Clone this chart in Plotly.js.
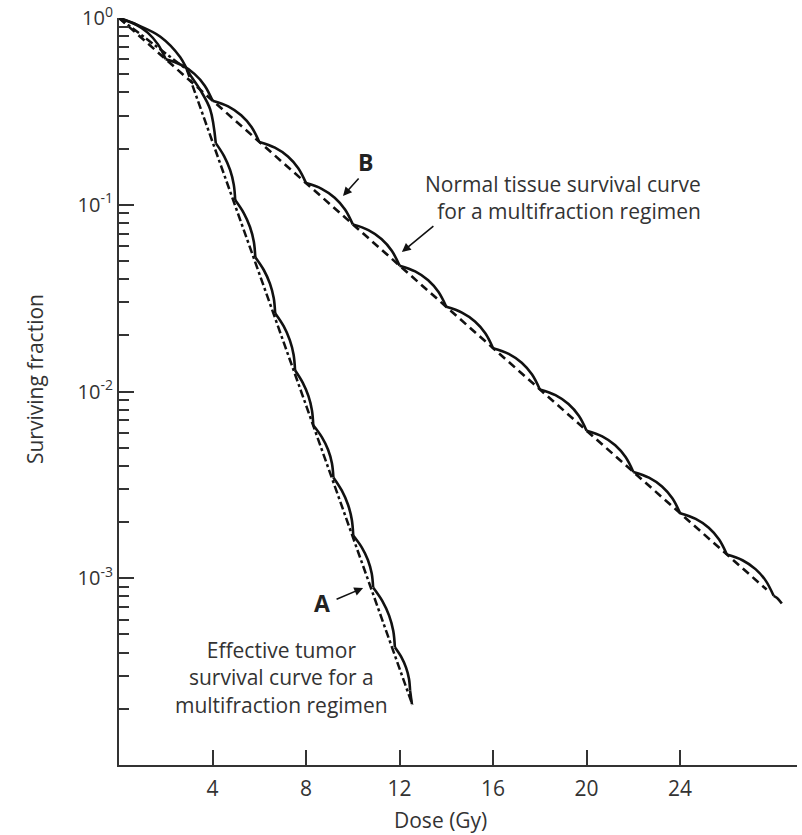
<!DOCTYPE html>
<html>
<head>
<meta charset="utf-8">
<script src="https://cdn.plot.ly/plotly-3.0.1.min.js"></script>
<style>html,body{margin:0;padding:0;background:#fff}#chart{width:802px;height:835px}</style>
</head>
<body>
<div id="chart"></div>
<script>
// ---------- data ----------
// Curve B (normal tissue): fraction break points and three points inside each fraction arc
const bKinkDose = [0, 2, 4, 6, 8, 10, 12, 14, 16, 18, 20, 22, 24, 26, 28];
const bKinkSurv = [1, 0.601, 0.361, 0.217, 0.1306, 0.0785, 0.0472, 0.0284, 0.01706, 0.01026, 0.00617, 0.00371, 0.00223, 0.00134, 0.000805];
const bP1Dose = [0.668, 2.668, 4.668, 6.668, 8.668, 10.668, 12.668, 14.668, 16.668, 18.668, 20.668, 22.668, 24.668, 26.668];
const bP1Surv = [0.9318, 0.560, 0.3364, 0.2022, 0.1217, 0.07315, 0.04398, 0.02646, 0.0159, 0.00956, 0.00575, 0.003457, 0.002078, 0.001249];
const bP2Dose = [1.226, 3.226, 5.226, 7.226, 9.226, 11.226, 13.226, 15.226, 17.226, 19.226, 21.226, 23.226, 25.226, 27.226];
const bP2Surv = [0.8353, 0.502, 0.3015, 0.1813, 0.1091, 0.06557, 0.03943, 0.02372, 0.01425, 0.00857, 0.005154, 0.003099, 0.001863, 0.001119];
const bP3Dose = [1.668, 3.668, 5.668, 7.668, 9.668, 11.668, 13.668, 15.668, 17.668, 19.668, 21.668, 23.668, 25.668, 27.668];
const bP3Surv = [0.7224, 0.4342, 0.2608, 0.1568, 0.09435, 0.05671, 0.0341, 0.02052, 0.01232, 0.007412, 0.004457, 0.00268, 0.001611, 0.000968];
const bTailDose = [28, 28.15, 28.35];
const bTailSurv = [0.000805, 0.000785, 0.000733];
// Effective (dashed) line for B
const bLineDose = [0, 27.7];
const bLineSurv = [1, 0.00087];

// Curve A (tumor)
const aFirstDose = [0, 0.79, 1.77, 2.62, 2.97, 3.48, 3.9, 4.14];
const aFirstSurv = [1, 0.917, 0.794, 0.617, 0.513, 0.411, 0.324, 0.2138];
const aKinkDose = [4.14, 4.97, 5.83, 6.68, 7.53, 8.31, 9.17, 10.02, 10.87, 11.8, 12.45];
const aKinkSurv = [0.2138, 0.1059, 0.05236, 0.02624, 0.0130, 0.00659, 0.003467, 0.001694, 0.000893, 0.000427, 0.000251];
const aP1Dose = [4.494, 5.337, 6.193, 7.043, 7.863, 8.677, 9.533, 10.383, 11.267, 12.078];
const aP1Surv = [0.1822, 0.09019, 0.04473, 0.02236, 0.01113, 0.005692, 0.002944, 0.001464, 0.000755, 0.000378];
const aP2Dose = [4.751, 5.603, 6.456, 7.306, 8.104, 8.943, 9.796, 10.646, 11.554, 12.278];
const aP2Surv = [0.1536, 0.07601, 0.03782, 0.01885, 0.009443, 0.004871, 0.002475, 0.001253, 0.000631, 0.000332];
const aP3Dose = [4.909, 5.767, 6.618, 7.468, 8.253, 9.107, 9.958, 10.808, 11.732, 12.403];
const aP3Surv = [0.1282, 0.06341, 0.03166, 0.01574, 0.007926, 0.004128, 0.002059, 0.001063, 0.000522, 0.00029];
const aTailDose = [12.45, 12.53];
const aTailSurv = [0.000251, 0.000212];
// Effective (dot-dash) line for A
const aLineDose = [0, 2.9, 12.55];
const aLineSurv = [1, 0.53, 0.00021];

// Axis ticks
const xTickVals = [4, 8, 12, 16, 20, 24];
const yTickVals = [1, 0.1, 0.01, 0.001];
const yTickText = ['10<sup>0</sup>', '10<sup>-1</sup>', '10<sup>-2</sup>', '10<sup>-3</sup>'];
const minorDigits = [2, 3, 4, 5, 6, 7, 8, 9];
const minorDecades = [1e-4, 1e-3, 1e-2, 1e-1];

// ---------- build arc traces (null separates fractions) ----------
function buildArcs(kd, ks, pts, pre, tail) {
  const x = [], y = [];
  if (pre) { x.push(...pre[0], null); y.push(...pre[1], null); }
  for (let i = 0; i < kd.length - 1; i++) {
    x.push(kd[i]); y.push(ks[i]);
    pts.forEach(p => { x.push(p[0][i]); y.push(p[1][i]); });
    x.push(kd[i + 1], null); y.push(ks[i + 1], null);
  }
  x.push(...tail[0]); y.push(...tail[1]);
  return {x, y};
}
const arcsB = buildArcs(bKinkDose, bKinkSurv,
  [[bP1Dose, bP1Surv], [bP2Dose, bP2Surv], [bP3Dose, bP3Surv]], null, [bTailDose, bTailSurv]);
const arcsA = buildArcs(aKinkDose, aKinkSurv,
  [[aP1Dose, aP1Surv], [aP2Dose, aP2Surv], [aP3Dose, aP3Surv]], [aFirstDose, aFirstSurv], [aTailDose, aTailSurv]);

const ink = '#111';
const txt = '#333';
const fam = '"Open Sans", "Noto Sans", sans-serif';

const traces = [
  {x: bLineDose, y: bLineSurv, mode: 'lines', line: {color: ink, width: 2.6, dash: '8px,5px'}, hoverinfo: 'skip'},
  {x: aLineDose, y: aLineSurv, mode: 'lines', line: {color: ink, width: 2.5, dash: '8px,3px,3px,3px'}, hoverinfo: 'skip'},
  {x: arcsB.x, y: arcsB.y, mode: 'lines', connectgaps: false, line: {color: ink, width: 2.6, shape: 'spline', smoothing: 1}, hoverinfo: 'skip'},
  {x: arcsA.x, y: arcsA.y, mode: 'lines', connectgaps: false, line: {color: ink, width: 2.6, shape: 'spline', smoothing: 1}, hoverinfo: 'skip'}
];

const minorVals = [];
minorDecades.forEach(d => minorDigits.forEach(k => minorVals.push(+(d * k).toPrecision(3))));

const ann = (x, y, text, opt) => Object.assign({x, y, xref: 'x', yref: 'y', text, showarrow: false,
  font: {family: fam, size: 21, color: txt}}, opt || {});
const arrow = (x, y, ax, ay) => ({x, y, xref: 'x', yref: 'y', ax, ay, axref: 'pixel', ayref: 'pixel', text: '',
  showarrow: true, arrowhead: 2, arrowsize: 1.1, arrowwidth: 1.6, arrowcolor: ink, standoff: 0});

const layout = {
  width: 802, height: 835,
  margin: {l: 119, r: 5, t: 18, b: 70},
  paper_bgcolor: '#fff', plot_bgcolor: '#fff',
  showlegend: false,
  font: {family: fam, size: 20, color: txt},
  xaxis: {
    range: [0, 29], showgrid: false, zeroline: false,
    showline: true, linecolor: '#333', linewidth: 2,
    tickmode: 'array', tickvals: xTickVals, ticks: 'inside', ticklen: 15, tickwidth: 2, tickcolor: '#333',
    ticklabelstandoff: 4,
    tickfont: {family: fam, size: 21, color: txt}
  },
  yaxis: {
    type: 'log', range: [-4, 0], showgrid: false, zeroline: false,
    showline: true, linecolor: '#333', linewidth: 2,
    tickmode: 'array', tickvals: yTickVals, ticktext: yTickText,
    ticks: 'inside', ticklen: 15, tickwidth: 2, tickcolor: '#333',
    tickfont: {family: fam, size: 20, color: txt},
    minor: {tickmode: 'array', tickvals: minorVals, ticks: 'inside', ticklen: 10, tickwidth: 2, tickcolor: '#333', showgrid: false}
  },
  annotations: [
    ann(10.56, -0.771, '<b>B</b>', {font: {family: fam, size: 23, color: '#222'}}),
    arrow(9.58, -0.953, 17, -19),
    ann(24.98, -0.961, 'Normal tissue survival curve<br>for a multifraction regimen', {xanchor: 'right', yanchor: 'middle', align: 'right'}),
    arrow(12.1, -1.253, 33, -27),
    ann(8.68, -3.133, '<b>A</b>', {font: {family: fam, size: 23, color: '#222'}}),
    arrow(10.44, -3.052, -28, 12),
    ann(6.93, -3.534, 'Effective tumor<br>survival curve for a<br>multifraction regimen', {xanchor: 'center', yanchor: 'middle', align: 'center'}),
    {xref: 'paper', yref: 'paper', x: -0.1239, y: 0.5167, xanchor: 'center', yanchor: 'middle',
     text: 'Surviving fraction', textangle: -90,
     showarrow: false, font: {family: fam, size: 21, color: txt}},
    {xref: 'paper', yref: 'paper', x: 0.4735, y: -0.0736, xanchor: 'center', yanchor: 'middle', text: 'Dose (Gy)',
     showarrow: false, font: {family: fam, size: 21, color: txt}}
  ]
};

Plotly.newPlot('chart', traces, layout, {staticPlot: true, displayModeBar: false});
</script>
</body>
</html>
